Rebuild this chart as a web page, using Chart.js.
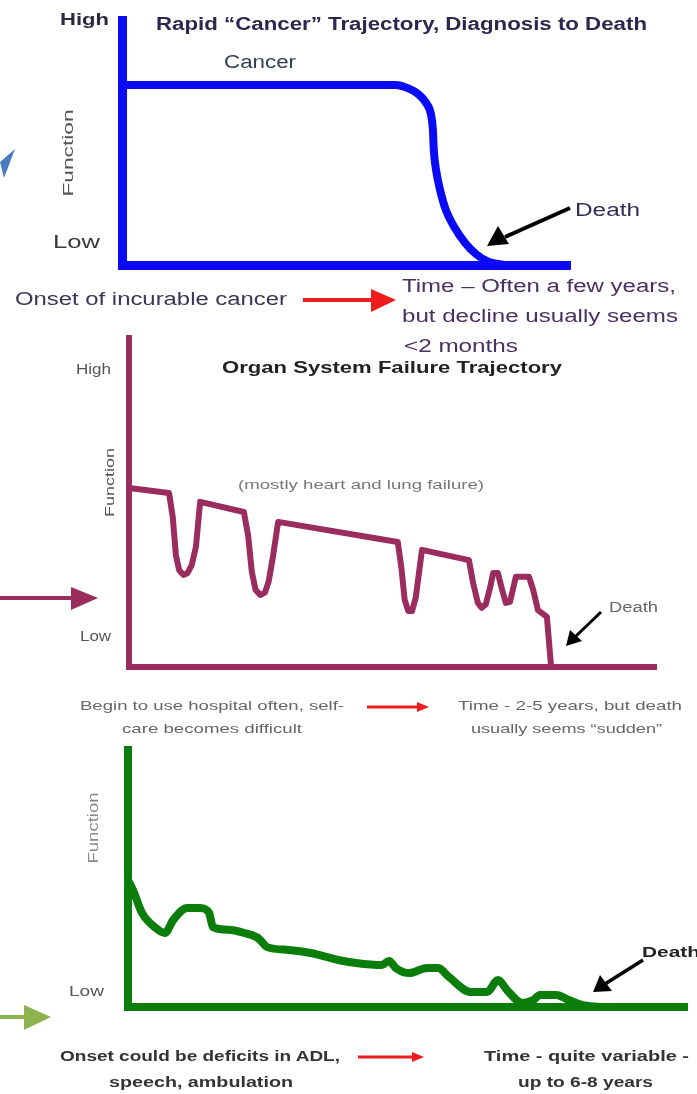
<!DOCTYPE html>
<html>
<head>
<meta charset="utf-8">
<script src="https://cdn.jsdelivr.net/npm/chart.js@4.4.1/dist/chart.umd.min.js"></script>
<style>
  html,body{margin:0;padding:0;background:#fff;}
  body{position:relative;width:697px;height:1094px;overflow:hidden;}
  canvas{position:absolute;left:0;}
  svg{position:absolute;left:0;top:0;}
  .lbl{position:absolute;white-space:nowrap;font-family:"Liberation Sans",Arial,sans-serif;}
</style>
</head>
<body>
<canvas id="c1" width="697" height="335" style="top:0px"></canvas>
<canvas id="c2" width="697" height="400" style="top:330px"></canvas>
<canvas id="c3" width="697" height="364" style="top:730px"></canvas>
<svg width="697" height="1094" viewBox="0 0 697 1094">
  <polygon points="0,162 15,149 4,178" fill="#4a7cc2"/>
  <line x1="570" y1="208" x2="505" y2="237" stroke="#000" stroke-width="4"/>
  <polygon points="487,246 498,226 509,244" fill="#000"/>
  <line x1="303" y1="300" x2="374" y2="300" stroke="#ee1c1c" stroke-width="4"/>
  <polygon points="371,289 396,300 371,312" fill="#ee1c1c"/>
  <line x1="0" y1="598" x2="76" y2="598" stroke="#9b2d5e" stroke-width="4"/>
  <polygon points="71,587 98,598 71,610" fill="#9b2d5e"/>
  <line x1="601" y1="612" x2="575" y2="637" stroke="#000" stroke-width="3"/>
  <polygon points="566,646 570,630 582,641" fill="#000"/>
  <line x1="367" y1="707" x2="420" y2="707" stroke="#ee1c1c" stroke-width="3"/>
  <polygon points="417,702 429,707 417,712" fill="#ee1c1c"/>
  <line x1="0" y1="1017" x2="30" y2="1017" stroke="#8db34e" stroke-width="4"/>
  <polygon points="24,1005 51,1017 24,1030" fill="#8db34e"/>
  <line x1="643" y1="960" x2="605" y2="984" stroke="#000" stroke-width="3.5"/>
  <polygon points="593,992 600,975 612,991" fill="#000"/>
  <line x1="358" y1="1057" x2="414" y2="1057" stroke="#ee1c1c" stroke-width="3"/>
  <polygon points="412,1052 424,1057 412,1062" fill="#ee1c1c"/>
</svg>
<script>
// ---------- DATA ----------
// Panel 1: Rapid "Cancer" trajectory (time 0-100, function 0-100)
const cancerTime     = [0, 40, 61, 63.8, 66.1, 67.9, 69, 69.4, 69.6, 70.1, 71, 72.3, 74.3, 76.6, 79, 81.9, 85.5];
const cancerFunction = [73.5, 73.5, 73.5, 72.2, 69.8, 66.1, 61.2, 55.1, 46.9, 38.8, 30.6, 22.4, 15.1, 9, 4.5, 1.2, 0];

// Panel 2: Organ system failure trajectory
const organTime     = [0, 7.6, 8.3, 8.9, 9.5, 10.3, 11.1, 11.9, 12.7, 13.5,
                       21.8, 22.6, 23.3, 24.0, 24.9, 25.8, 26.5, 27.3, 28.3,
                       51.0, 51.7, 52.3, 53.0, 53.7, 54.4, 55.6,
                       64.5, 65.3, 66.2, 66.9, 67.7, 68.5, 69.1, 70.0, 70.8, 71.5, 72.3, 73.4,
                       75.9, 76.7, 77.6, 79.3, 80.1];
const organFunction = [54.4, 52.9, 45.6, 34.0, 29.5, 28.0, 28.5, 31.0, 36.5, 50.2,
                       47.1, 40.0, 29.0, 23.5, 21.9, 22.6, 26.0, 33.4, 44.1,
                       38.0, 30.0, 20.5, 17.0, 17.0, 21.0, 35.6,
                       32.5, 25.5, 19.5, 18.0, 19.0, 24.0, 28.6, 28.6, 23.5, 19.5, 19.8, 27.4,
                       27.4, 23.4, 17.3, 15.2, 0];

// Panel 3: Frailty trajectory
const frailTime     = [0, 0.9, 2.5, 5.0, 6.6, 8.1, 10.6, 12.9, 14.5, 15.2, 18.4, 20.8, 23.3, 24.9, 28.8, 32.7, 37.6, 40.8, 45.4, 46.7, 47.9, 50.3, 53.5, 55.5, 57.4, 61.4, 64.2, 66.2, 67.8, 70.5, 72.5, 73.7, 76.6, 78.9, 81.2, 84.4];
const frailFunction = [49.4, 45.5, 36.6, 30.7, 28.8, 33.9, 38.5, 38.5, 36.6, 31.1, 30.0, 28.8, 26.8, 23.3, 22.2, 21.0, 18.3, 17.1, 16.3, 17.9, 15.2, 13.2, 15.2, 15.2, 11.7, 5.8, 5.8, 10.5, 6.6, 1.6, 2.7, 4.7, 4.7, 2.7, 0.8, 0];

// ---------- CHARTS ----------
function toPts(xs, ys){ return xs.map((x,i)=>({x:x, y:ys[i]})); }

function makeChart(id, xs, ys, color, lineW, axisW, pad, tension, mono){
  const ds = { data:toPts(xs,ys), borderColor:color, borderWidth:lineW,
      pointRadius:0, fill:false, clip:false, tension:tension,
      borderJoinStyle:'round', borderCapStyle:'round' };
  if (mono) ds.cubicInterpolationMode = 'monotone';
  const axis = { type:'linear', min:0, max:100,
      ticks:{display:false}, grid:{display:false, drawTicks:false, tickLength:0},
      border:{display:true, color:color, width:axisW} };
  return new Chart(document.getElementById(id), {
    type:'line',
    data:{ datasets:[ds] },
    options:{
      responsive:false, animation:false, events:[],
      layout:{ padding:pad },
      plugins:{ legend:{display:false}, tooltip:{enabled:false}, title:{display:false} },
      scales:{ x:Object.assign({}, axis), y:Object.assign({}, axis) }
    }
  });
}

makeChart('c1', cancerTime, cancerFunction, '#0a0af5', 8, 9, {left:122, top:20, right:127, bottom:70}, 0.4, true);
makeChart('c2', organTime, organFunction, '#9b2d5e', 6, 6, {left:129, top:8, right:41, bottom:63}, 0, false);
makeChart('c3', frailTime, frailFunction, '#0b7d0b', 8, 8, {left:128, top:20, right:10, bottom:87}, 0.3, true);

// ---------- TEXT ----------
const labels = [
  {t:'High', x:60, b:25, w:49, f:17, wt:700, c:'#2d2a40'},
  {t:'Rapid \u201cCancer\u201d Trajectory, Diagnosis to Death', x:156, b:30, w:491, f:18, wt:700, c:'#2b2850'},
  {t:'Cancer', x:224, b:68, w:72, f:18, wt:400, c:'#344050'},
  {t:'Low', x:53, b:248, w:47, f:18, wt:400, c:'#3a3838'},
  {t:'Death', x:575, b:216, w:65, f:18, wt:400, c:'#2f2f55'},
  {t:'Onset of incurable cancer', x:15, b:305, w:272, f:18, wt:400, c:'#3d3555'},
  {t:'Time \u2013 Often a few years,', x:402, b:292, w:274, f:18, wt:400, c:'#4a3060'},
  {t:'but decline usually seems', x:402, b:322, w:276, f:18, wt:400, c:'#4a3060'},
  {t:'<2 months', x:404, b:352, w:114, f:18, wt:400, c:'#4a3060'},
  {t:'High', x:76, b:374, w:35, f:14, wt:400, c:'#555'},
  {t:'Organ System Failure Trajectory', x:222, b:373, w:340, f:17, wt:700, c:'#222'},
  {t:'(mostly heart and lung failure)', x:238, b:489, w:246, f:13, wt:400, c:'#777'},
  {t:'Low', x:80, b:641, w:31, f:14, wt:400, c:'#555'},
  {t:'Death', x:609, b:612, w:49, f:14, wt:400, c:'#666'},
  {t:'Begin to use hospital often, self-', x:80, b:710, w:264, f:13, wt:400, c:'#666'},
  {t:'care becomes difficult', x:122, b:733, w:180, f:13, wt:400, c:'#666'},
  {t:'Time  - 2-5 years, but death', x:458, b:710, w:224, f:13, wt:400, c:'#666'},
  {t:'usually seems \u201csudden\u201d', x:471, b:733, w:191, f:13, wt:400, c:'#666'},
  {t:'Low', x:69, b:996, w:35, f:14, wt:400, c:'#555'},
  {t:'Death', x:642, b:957, w:58, f:15, wt:700, c:'#222'},
  {t:'Onset could be deficits in ADL,', x:60, b:1061, w:280, f:14, wt:700, c:'#333'},
  {t:'speech, ambulation', x:109, b:1087, w:184, f:14, wt:700, c:'#333'},
  {t:'Time - quite variable -', x:484, b:1061, w:205, f:14, wt:700, c:'#333'},
  {t:'up to 6-8 years', x:518, b:1087, w:135, f:14, wt:700, c:'#333'}
];
const rotated = [
  {t:'Function', cx:68, cy:153, w:87, f:14, c:'#555'},
  {t:'Function', cx:110, cy:482, w:69, f:13, c:'#555'},
  {t:'Function', cx:93, cy:828, w:71, f:14, c:'#888'}
];

labels.forEach(L=>{
  const d = document.createElement('div');
  d.className = 'lbl';
  d.textContent = L.t;
  d.style.fontSize = L.f+'px';
  d.style.lineHeight = L.f+'px';
  d.style.fontWeight = L.wt;
  d.style.color = L.c;
  d.style.left = L.x+'px';
  d.style.top = (L.b - 0.8465*L.f)+'px';
  d.style.transformOrigin = '0 0';
  document.body.appendChild(d);
  const nat = d.getBoundingClientRect().width;
  d.style.transform = 'scaleX('+(L.w/nat)+')';
});
rotated.forEach(L=>{
  const d = document.createElement('div');
  d.className = 'lbl';
  d.textContent = L.t;
  d.style.fontSize = L.f+'px';
  d.style.lineHeight = L.f+'px';
  d.style.color = L.c;
  document.body.appendChild(d);
  const r = d.getBoundingClientRect();
  d.style.left = (L.cx - r.width/2)+'px';
  d.style.top = (L.cy - r.height/2)+'px';
  d.style.transformOrigin = '50% 50%';
  d.style.transform = 'rotate(-90deg) scaleX('+(L.w/r.width)+')';
});
</script>
</body>
</html>
